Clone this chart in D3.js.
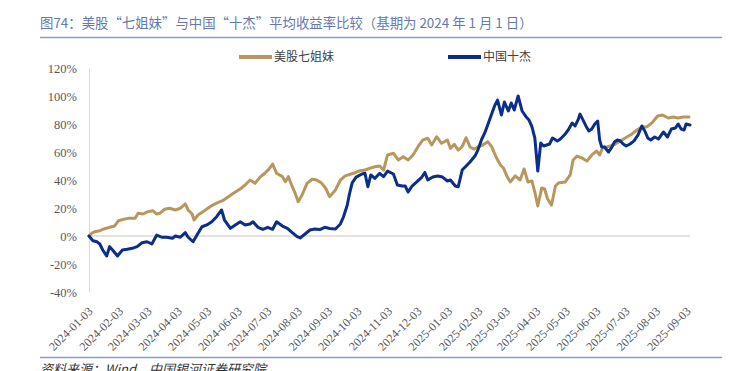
<!DOCTYPE html>
<html>
<head>
<meta charset="utf-8">
<script src="https://cdn.jsdelivr.net/npm/d3@7"></script>
<style>
  html, body { margin: 0; padding: 0; background: #ffffff; }
  svg { display: block; }
</style>
</head>
<body>
<svg id="chart" width="741" height="371"></svg>
<script>
// ---------------- DATA ----------------
const seriesNames = ["美股七姐妹", "中国十杰"];

const magDates = ["2024-01-02","2024-01-05","2024-01-08","2024-01-13","2024-01-18","2024-01-23","2024-01-28","2024-02-01","2024-02-06","2024-02-11","2024-02-18","2024-02-21","2024-02-26","2024-03-02","2024-03-07","2024-03-11","2024-03-14","2024-03-19","2024-03-24","2024-03-30","2024-04-04","2024-04-09","2024-04-12","2024-04-16","2024-04-18","2024-04-22","2024-04-27","2024-05-02","2024-05-07","2024-05-12","2024-05-17","2024-05-23","2024-05-28","2024-06-04","2024-06-09","2024-06-14","2024-06-19","2024-06-24","2024-06-29","2024-07-03","2024-07-07","2024-07-11","2024-07-17","2024-07-20","2024-07-23","2024-07-27","2024-07-30","2024-08-02","2024-08-06","2024-08-11","2024-08-16","2024-08-21","2024-08-26","2024-08-30","2024-09-03","2024-09-09","2024-09-14","2024-09-19","2024-09-24","2024-09-29","2024-10-04","2024-10-09","2024-10-14","2024-10-19","2024-10-24","2024-10-28","2024-11-01","2024-11-07","2024-11-12","2024-11-17","2024-11-22","2024-11-27","2024-12-02","2024-12-07","2024-12-12","2024-12-16","2024-12-21","2024-12-26","2025-01-01","2025-01-04","2025-01-08","2025-01-12","2025-01-16","2025-01-20","2025-01-24","2025-01-28","2025-02-01","2025-02-06","2025-02-11","2025-02-15","2025-02-20","2025-02-24","2025-02-27","2025-03-03","2025-03-06","2025-03-11","2025-03-16","2025-03-20","2025-03-24","2025-03-28","2025-03-31","2025-04-03","2025-04-07","2025-04-10","2025-04-13","2025-04-17","2025-04-21","2025-04-24","2025-05-01","2025-05-06","2025-05-09","2025-05-13","2025-05-18","2025-05-23","2025-05-28","2025-06-02","2025-06-05","2025-06-08","2025-06-16","2025-06-21","2025-06-26","2025-07-01","2025-07-08","2025-07-13","2025-07-18","2025-07-23","2025-07-29","2025-08-03","2025-08-08","2025-08-14","2025-08-19","2025-08-24","2025-08-29","2025-09-04"];
const magValues = [0,2.1,3.1,3.8,5.2,6.2,7.1,10.9,11.9,12.6,12.6,16.2,15.7,17.4,18.1,15.7,16.2,19.1,19.8,18.6,19.8,22.9,18.6,15.7,11.4,15.0,17.4,19.8,22.1,23.8,25.2,28.1,30.5,33.6,36.4,40.0,37.6,41.9,44.8,47.6,51.4,44.8,42.4,38.8,42.4,35.2,30.5,24.5,29.3,37.6,40.5,40.0,37.6,34.1,28.1,32.9,40.0,42.9,44.1,45.2,46.6,47.1,48.4,49.5,50.0,47.1,57.9,59.1,54.3,56.6,54.3,57.9,63.8,68.6,69.8,65.0,70.9,66.2,68.6,62.6,65.5,61.4,63.8,70.2,63.6,62.1,63.6,65.0,67.4,63.8,55.7,50.7,48.6,42.1,38.6,42.9,40.0,47.9,38.6,39.3,31.4,21.4,34.3,33.6,26.4,22.1,35.7,37.9,38.6,43.6,54.3,57.1,55.7,53.6,57.9,60.7,57.9,62.9,64.3,65.7,67.9,70.0,72.9,75.7,77.9,77.9,81.4,85.7,86.4,84.3,85.0,84.3,85.0,85.0];

const chinaDates = ["2024-01-02","2024-01-06","2024-01-10","2024-01-13","2024-01-16","2024-01-20","2024-01-23","2024-01-26","2024-01-31","2024-02-05","2024-02-10","2024-02-15","2024-02-20","2024-02-25","2024-03-01","2024-03-06","2024-03-11","2024-03-16","2024-03-21","2024-03-27","2024-03-30","2024-04-04","2024-04-09","2024-04-12","2024-04-17","2024-04-22","2024-04-26","2024-05-01","2024-05-06","2024-05-11","2024-05-16","2024-05-19","2024-05-25","2024-05-30","2024-06-04","2024-06-09","2024-06-14","2024-06-17","2024-06-22","2024-06-27","2024-07-02","2024-07-07","2024-07-11","2024-07-17","2024-07-22","2024-07-27","2024-08-01","2024-08-04","2024-08-09","2024-08-14","2024-08-19","2024-08-24","2024-08-29","2024-09-03","2024-09-09","2024-09-14","2024-09-17","2024-09-21","2024-09-23","2024-09-26","2024-09-30","2024-10-06","2024-10-09","2024-10-12","2024-10-15","2024-10-19","2024-10-24","2024-10-28","2024-11-01","2024-11-07","2024-11-11","2024-11-16","2024-11-19","2024-11-22","2024-11-26","2024-12-01","2024-12-06","2024-12-09","2024-12-12","2024-12-17","2024-12-22","2024-12-27","2025-01-01","2025-01-04","2025-01-09","2025-01-12","2025-01-16","2025-01-20","2025-01-24","2025-01-29","2025-02-01","2025-02-05","2025-02-08","2025-02-11","2025-02-15","2025-02-18","2025-02-21","2025-02-25","2025-02-28","2025-03-04","2025-03-07","2025-03-10","2025-03-14","2025-03-18","2025-03-22","2025-03-25","2025-03-28","2025-03-31","2025-04-03","2025-04-06","2025-04-09","2025-04-12","2025-04-15","2025-04-18","2025-04-23","2025-04-26","2025-04-30","2025-05-04","2025-05-08","2025-05-11","2025-05-14","2025-05-16","2025-05-19","2025-05-22","2025-05-25","2025-05-28","2025-05-31","2025-06-03","2025-06-05","2025-06-07","2025-06-10","2025-06-14","2025-06-17","2025-06-20","2025-06-23","2025-06-26","2025-06-29","2025-07-02","2025-07-06","2025-07-10","2025-07-14","2025-07-18","2025-07-21","2025-07-24","2025-07-27","2025-07-31","2025-08-04","2025-08-09","2025-08-13","2025-08-17","2025-08-21","2025-08-24","2025-08-27","2025-08-30","2025-09-01","2025-09-05"];
const chinaValues = [0,-3.4,-4.1,-5.7,-10.0,-14.3,-7.6,-10.0,-14.3,-10.0,-9.5,-8.8,-7.6,-4.8,-4.1,-5.7,0.7,-0.9,-0.9,-1.6,0,-0.9,2.4,-0.9,-4.1,1.9,6.6,7.9,10.2,13.8,18.6,11.4,5.5,7.9,10.2,7.9,8.6,10.2,6.2,4.8,6.2,4.8,10.2,7.1,5.5,2.4,-0.5,-1.4,1.4,4.3,5.0,4.6,6.2,5.4,5.0,8.6,13.4,22.1,29.3,37.9,42.1,44.3,44.8,35.2,43.6,41.1,44.8,42.4,46.4,44.3,36.4,35.7,35.7,31.4,35.7,38.8,42.1,45.4,40.0,42.1,42.9,42.1,39.3,40.0,35.7,35.2,47.1,50.0,52.9,57.1,61.4,69.3,73.6,79.3,87.1,92.9,97.1,86.4,95.7,89.3,95.0,90.0,100.0,89.3,85.2,82.9,78.1,70.0,46.4,66.4,64.3,65.0,65.7,70.0,67.9,69.3,72.1,75.7,80.7,78.6,82.9,87.1,82.9,78.6,75.0,76.4,80.0,82.1,68.6,63.6,63.6,60.0,62.9,67.1,68.6,67.9,65.7,64.3,65.7,67.9,72.1,78.6,75.0,70.0,68.6,70.7,69.3,74.3,70.7,76.4,77.1,80.0,76.4,75.7,80.0,79.3];

const yTickValues = [-40, -20, 0, 20, 40, 60, 80, 100, 120];
const xTickLabels = ["2024-01-03","2024-02-03","2024-03-03","2024-04-03","2024-05-03","2024-06-03","2024-07-03","2024-08-03","2024-09-03","2024-10-03","2024-11-03","2024-12-03","2025-01-03","2025-02-03","2025-03-03","2025-04-03","2025-05-03","2025-06-03","2025-07-03","2025-08-03","2025-09-03"];
const xDomain = ["2024-01-02", "2025-09-05"];

const titleText = "图74：美股“七姐妹”与中国“十杰”平均收益率比较（基期为 2024 年 1 月 1 日）";
const sourceText = "资料来源：Wind，中国银河证券研究院";

// ---------------- DRAW ----------------
(function () {
const parse = d3.timeParse("%Y-%m-%d");
const colors = ["#B8975F", "#0B2E8A"];
const svg = d3.select("#chart");
const pLeft = 89, pRight = 690, pTop = 68, pBottom = 292;

const x = d3.scaleTime().domain(xDomain.map(parse)).range([pLeft, pRight]);
const y = d3.scaleLinear().domain([-40, 120]).range([pBottom, pTop]);

const cjk = "'Noto Sans CJK SC', 'Noto Sans', sans-serif";
const serif = "'Liberation Serif', 'Times New Roman', 'DejaVu Serif', serif";

// Title
svg.append("text").attr("x", 40).attr("y", 27.5)
  .style("font-family", cjk).style("font-size", "13.4px").attr("fill", "#6479AE")
  .text(titleText);
svg.append("line").attr("x1", 40).attr("x2", 722).attr("y1", 37.5).attr("y2", 37.5)
  .attr("stroke", "#8C9CC8").attr("stroke-width", 1.5);

// Bottom rule and source
svg.append("line").attr("x1", 40).attr("x2", 722).attr("y1", 357.5).attr("y2", 357.5)
  .attr("stroke", "#8C9CC8").attr("stroke-width", 1.5);
svg.append("text").attr("x", 40).attr("y", 374)
  .style("font-family", cjk).style("font-size", "13px").style("font-style", "italic").attr("fill", "#333")
  .text(sourceText);

// Y axis
const yAxis = d3.axisLeft(y).tickValues(yTickValues).tickSize(0).tickPadding(12)
  .tickFormat(d => d + "%");
const gy = svg.append("g").attr("transform", `translate(${pLeft},0)`).call(yAxis);
gy.select(".domain").attr("stroke", "#D9D9D9").attr("stroke-width", 1);
gy.selectAll("text").style("font-family", serif).style("font-size", "12.5px").attr("fill", "#595959");

// Zero line
svg.append("line").attr("x1", pLeft).attr("x2", pRight).attr("y1", y(0)).attr("y2", y(0))
  .attr("stroke", "#D9D9D9").attr("stroke-width", 1.5);

// X axis labels
const xAxis = d3.axisBottom(x).tickValues(xTickLabels.map(parse)).tickSize(0).tickPadding(0)
  .tickFormat(d3.timeFormat("%Y-%m-%d"));
const gx = svg.append("g").attr("transform", `translate(0,${pBottom + 17})`).call(xAxis);
gx.select(".domain").remove();
gx.selectAll("text")
  .style("font-family", serif).style("font-size", "12px").attr("fill", "#595959")
  .attr("text-anchor", "end")
  .attr("dy", "0.35em").attr("y", 0).attr("x", 0)
  .attr("transform", "translate(0,0) rotate(-45)");

// Lines
const line = d3.line().x(d => x(d[0])).y(d => y(d[1])).curve(d3.curveLinear);
const series = [
  magDates.map((d, i) => [parse(d), magValues[i]]),
  chinaDates.map((d, i) => [parse(d), chinaValues[i]])
];
series.forEach((s, i) => {
  svg.append("path").datum(s).attr("d", line)
    .attr("fill", "none").attr("stroke", colors[i]).attr("stroke-width", 3)
    .attr("stroke-linejoin", "round").attr("stroke-linecap", "round");
});

// Legend
const legendX = [239, 448];
seriesNames.forEach((name, i) => {
  svg.append("line").attr("x1", legendX[i]).attr("x2", legendX[i] + 33)
    .attr("y1", 57).attr("y2", 57).attr("stroke", colors[i]).attr("stroke-width", 4);
  svg.append("text").attr("x", legendX[i] + 35).attr("y", 57).attr("dy", "0.35em")
    .style("font-family", cjk).style("font-size", "12px").attr("fill", "#404040")
    .text(name);
});
})();
</script>
</body>
</html>
